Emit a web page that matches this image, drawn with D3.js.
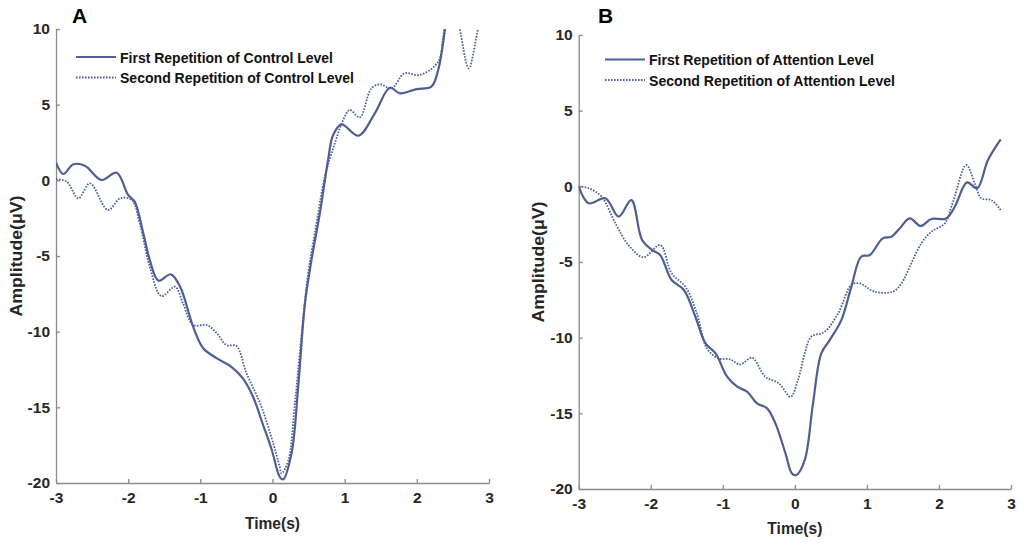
<!DOCTYPE html>
<html>
<head>
<meta charset="utf-8">
<script src="https://cdn.jsdelivr.net/npm/d3@7"></script>
<style>
  body { margin: 0; background: #fff; }
  svg { display: block; font-family: "Liberation Sans", Arial, sans-serif; }
  .tick text { font-size: 15.5px; font-weight: bold; fill: #262626; }
  .axis path, .axis line { stroke: #8a8a8a; stroke-width: 1.3; }
</style>
</head>
<body>
<svg id="chart" width="1028" height="543"></svg>
<script>
// Panel A - control level
const tA1 = [-3.0, -2.9, -2.76, -2.6, -2.37, -2.16, -2.0, -1.91, -1.79, -1.7, -1.58, -1.41, -1.28, -1.1, -0.96, -0.77, -0.57, -0.41, -0.27, -0.13, -0.01, 0.1, 0.148, 0.264, 0.356, 0.45, 0.54, 0.656, 0.77, 0.84, 0.957, 1.19, 1.418, 1.626, 1.765, 1.996, 2.2, 2.296, 2.388, 2.45, 2.6, 2.88];
const vA1 = [1.16, 0.42, 1.06, 0.97, 0.02, 0.5, -0.97, -1.41, -3.5, -5.27, -6.63, -6.21, -7.03, -9.67, -11.1, -11.77, -12.32, -13.09, -14.3, -16.17, -17.82, -19.59, -19.76, -18.04, -13.64, -8.13, -5.27, -2.18, 1.34, 3.0, 3.7, 2.95, 4.43, 6.12, 5.75, 6.03, 6.19, 7.29, 9.93, 12.5, 15, 16];
const tA2 = [-3.0, -2.85, -2.69, -2.53, -2.28, -2.11, -1.95, -1.84, -1.7, -1.54, -1.35, -1.24, -1.1, -0.91, -0.77, -0.64, -0.5, -0.36, -0.17, 0.01, 0.1, 0.125, 0.22, 0.31, 0.4, 0.494, 0.587, 0.726, 0.864, 0.98, 1.07, 1.21, 1.37, 1.49, 1.65, 1.83, 2.04, 2.296, 2.366, 2.42, 2.5, 2.595, 2.72, 2.85, 2.9];
const vA2 = [0.07, -0.09, -1.19, -0.2, -1.96, -1.19, -1.3, -2.84, -5.71, -7.65, -7.03, -8.13, -9.56, -9.56, -10.11, -10.88, -10.95, -12.76, -14.74, -17.38, -18.93, -19.37, -18.49, -14.74, -10.34, -6.15, -3.5, 0.24, 2.45, 3.99, 4.65, 4.16, 6.08, 6.34, 6.08, 7.07, 6.96, 7.84, 9.5, 11.2, 12.0, 10.0, 7.4, 10.0, 10.6];

// Panel B - attention level
const tB1 = [-3.0, -2.86, -2.63, -2.445, -2.27, -2.12, -1.98, -1.87, -1.71, -1.54, -1.38, -1.24, -1.1, -0.94, -0.8, -0.66, -0.525, -0.386, -0.27, -0.13, -0.04, 0.02, 0.137, 0.252, 0.367, 0.484, 0.645, 0.784, 0.92, 1.04, 1.22, 1.34, 1.455, 1.594, 1.747, 1.894, 2.1, 2.22, 2.39, 2.53, 2.68, 2.857];
const vB1 = [0.0, -1.12, -0.79, -2.0, -0.91, -3.55, -4.21, -4.54, -6.19, -6.85, -8.62, -10.38, -11.04, -12.58, -13.24, -13.58, -14.34, -14.67, -15.66, -17.65, -18.97, -19.08, -18.09, -14.34, -11.04, -10.16, -8.84, -6.64, -4.65, -4.54, -3.44, -3.33, -2.78, -2.12, -2.62, -2.16, -2.12, -1.35, 0.26, -0.13, 1.74, 3.11];
const tB2 = [-3.0, -2.86, -2.68, -2.49, -2.31, -2.1, -1.87, -1.71, -1.52, -1.36, -1.22, -1.06, -0.9, -0.76, -0.595, -0.41, -0.22, -0.06, 0.043, 0.137, 0.228, 0.414, 0.6, 0.784, 0.9, 1.108, 1.36, 1.48, 1.616, 1.755, 1.894, 2.08, 2.195, 2.38, 2.496, 2.588, 2.727, 2.857];
const vB2 = [0.0, -0.13, -0.69, -2.45, -3.88, -4.69, -3.88, -5.75, -6.63, -8.39, -10.71, -11.37, -11.43, -11.77, -11.33, -12.58, -13.02, -13.91, -12.8, -11.04, -9.94, -9.61, -8.4, -6.52, -6.41, -6.96, -6.96, -6.41, -5.09, -3.77, -3.0, -2.45, -1.02, 1.41, 0.2, -0.79, -0.91, -1.57];

const xTicks = [-3, -2, -1, 0, 1, 2, 3];
const yTicks = [-20, -15, -10, -5, 0, 5, 10];

const panels = [
  {
    id: "A", left: 56, right: 489, top: 29, bottom: 483,
    letterX: 72, letterY: 23, ylabelX: 16.5, xlabelY: 529,
    legend: ["First Repetition of Control Level", "Second Repetition of Control Level"],
    legendW: [213, 234], legX: 76, legY: 57,
    series: [[tA1, vA1], [tA2, vA2]]
  },
  {
    id: "B", left: 578.7, right: 1011, top: 35, bottom: 489,
    letterX: 598, letterY: 23, ylabelX: 539, xlabelY: 534,
    legend: ["First Repetition of Attention Level", "Second Repetition of Attention Level"],
    legendW: [225, 246], legX: 605, legY: 59.5,
    series: [[tB1, vB1], [tB2, vB2]]
  }
];

const lineColor = "#4d5f93";
const svg = d3.select("#chart");
// plain hyphen for negatives, like the original figure
const fmt = (d) => String(d);

panels.forEach((p, pi) => {
  const x = d3.scaleLinear().domain([-3, 3]).range([p.left, p.right]);
  const y = d3.scaleLinear().domain([-20, 10]).range([p.bottom, p.top]);

  svg.append("defs").append("clipPath").attr("id", "clip" + pi)
    .append("rect")
    .attr("x", p.left).attr("y", p.top)
    .attr("width", p.right - p.left).attr("height", p.bottom - p.top);

  // axes, ticks pointing inward
  svg.append("g").attr("class", "axis")
    .attr("transform", `translate(0,${p.bottom})`)
    .call(d3.axisBottom(x).tickValues(xTicks).tickSizeInner(-4).tickSizeOuter(0).tickPadding(9).tickFormat(fmt));
  svg.append("g").attr("class", "axis")
    .attr("transform", `translate(${p.left},0)`)
    .call(d3.axisLeft(y).tickValues(yTicks).tickSizeInner(-4).tickSizeOuter(0).tickPadding(6).tickFormat(fmt));
  svg.selectAll(".axis .domain").attr("stroke", "#8a8a8a");

  const line = d3.line()
    .x((d) => x(d[0]))
    .y((d) => y(d[1]))
    .curve(d3.curveCatmullRom.alpha(0.5));

  p.series.forEach((s, si) => {
    const pts = s[0].map((t, i) => [t, s[1][i]]);
    svg.append("path")
      .attr("clip-path", `url(#clip${pi})`)
      .attr("d", line(pts))
      .attr("fill", "none")
      .attr("stroke", lineColor)
      .attr("stroke-width", si === 0 ? 2.2 : 1.8)
      .attr("stroke-dasharray", si === 0 ? null : "1.6,1.4");
  });

  // legend
  p.legend.forEach((txt, i) => {
    const ly = p.legY + i * 20.5;
    svg.append("line")
      .attr("x1", p.legX).attr("x2", p.legX + 40)
      .attr("y1", ly).attr("y2", ly)
      .attr("stroke", lineColor)
      .attr("stroke-width", i === 0 ? 2.2 : 1.8)
      .attr("stroke-dasharray", i === 0 ? null : "1.6,1.4");
    svg.append("text")
      .attr("x", p.legX + 44).attr("y", ly + 5.5)
      .attr("font-size", 15).attr("font-weight", "bold").attr("fill", "#111")
      .attr("textLength", p.legendW[i]).attr("lengthAdjust", "spacingAndGlyphs")
      .text(txt);
  });

  // labels
  svg.append("text")
    .attr("x", p.letterX).attr("y", p.letterY)
    .attr("font-size", 21).attr("font-weight", "bold").attr("fill", "#000")
    .text(p.id);

  svg.append("text")
    .attr("x", x(0)).attr("y", p.xlabelY)
    .attr("text-anchor", "middle")
    .attr("font-size", 16).attr("font-weight", "bold").attr("fill", "#262626")
    .attr("textLength", 55).attr("lengthAdjust", "spacingAndGlyphs")
    .text("Time(s)");

  const cy = (p.top + p.bottom) / 2;
  svg.append("text")
    .attr("transform", `translate(${p.ylabelX + 5},${cy}) rotate(-90)`)
    .attr("text-anchor", "middle")
    .attr("font-size", 16).attr("font-weight", "bold").attr("fill", "#262626")
    .attr("textLength", 121).attr("lengthAdjust", "spacingAndGlyphs")
    .text("Amplitude(μV)");
});
</script>
</body>
</html>
